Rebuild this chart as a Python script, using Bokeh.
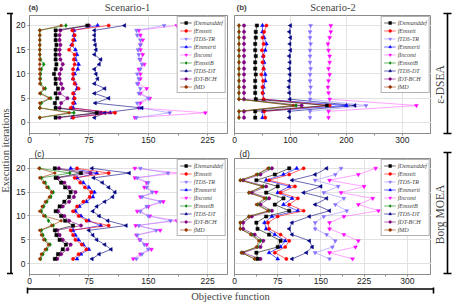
import math
from bokeh.plotting import figure
from bokeh.layouts import row, column
from bokeh.models import Range1d, FixedTicker, Legend, LegendItem, Label
from bokeh.embed import file_html
from bokeh.resources import INLINE

# ---------------- data ----------------
iter_20 = [1, 2, 3, 4, 5, 6, 7, 8, 9, 10, 11, 12, 13, 14, 15, 16, 17, 18, 19, 20]
iter_16 = [1.0, 2.3, 3.5, 4.8, 6.1, 7.3, 8.6, 9.9, 11.1, 12.4, 13.7, 14.9, 16.2, 17.5, 18.7, 20.0]

series_names = ["fDemanddef", "fEmsett", "fTDS-TR", "fEmmerti", "fIncomi",
                "fEmsetB", "fTDS-DT", "fDT-BCH", "fMD"]

y_ticks = [0, 5, 10, 15, 20]
x_ticks_a = [0, 75, 150, 225]
x_minor_a = [37.5, 112.5, 187.5]
x_ticks_b = [0, 100, 200, 300]
x_minor_b = [50, 150, 250]
x_ticks_d = [0, 75, 150, 225, 300]
x_minor_d = [37.5, 112.5, 187.5, 262.5]

# Panel (a): Scenario-1, e-DSEA (iterations 1..20)
a_demanddef = [33, 85, 33, 32, 35, 33, 36, 33, 33, 31, 33, 34, 33, 33, 33, 34, 33, 33, 33, 73]
a_emsett    = [55, 108, 52, 55, 57, 55, 62, 57, 55, 55, 55, 57, 56, 57, 50, 54, 55, 57, 54, 100]
a_tdstr     = [135, 177, 140, 136, 150, 138, 140, 136, 138, 136, 140, 142, 139, 138, 137, 140, 140, 136, 135, 170]
a_emmerti   = [54, 102, 55, 57, 56, 56, 60, 58, 55, 57, 61, 62, 58, 60, 58, 53, 57, 56, 56, 86]
a_incomi    = [133, 222, 138, 140, 152, 140, 148, 137, 140, 140, 138, 145, 140, 143, 140, 140, 143, 140, 138, 186]
a_emsetb    = [13, 56, 13, 15, 27, 14, 20, 14, 14, 14, 15, 18, 14, 13, 13, 13, 13, 13, 13, 46]
a_tdsdt     = [82, 95, 142, 83, 100, 82, 95, 82, 86, 84, 82, 88, 90, 82, 84, 83, 82, 82, 82, 120]
a_dtbch     = [38, 90, 38, 40, 48, 38, 42, 40, 38, 38, 40, 42, 39, 38, 38, 39, 38, 38, 39, 75]
a_md        = [13, 50, 13, 13, 25, 13, 18, 13, 13, 13, 13, 13, 13, 13, 13, 13, 13, 13, 13, 40]

# Panel (b): Scenario-2, e-DSEA (16 recorded iterations)
b_demanddef = [37, 37, 165, 38, 37, 37, 37, 38, 37, 37, 38, 37, 37, 38, 38, 40]
b_emsett    = [55, 53, 170, 52, 50, 50, 51, 48, 52, 50, 52, 49, 52, 50, 53, 57]
b_tdstr     = [135, 135, 235, 135, 135, 136, 135, 135, 136, 135, 135, 135, 136, 135, 135, 136]
b_emmerti   = [50, 51, 200, 52, 51, 52, 55, 55, 52, 53, 51, 55, 57, 53, 50, 50]
b_incomi    = [168, 168, 325, 170, 168, 167, 168, 170, 168, 170, 170, 168, 167, 170, 172, 172]
b_emsetb    = [8, 8, 110, 8, 8, 8, 8, 8, 8, 8, 8, 8, 8, 8, 8, 8]
b_tdsdt     = [98, 98, 215, 99, 98, 97, 98, 99, 98, 99, 98, 100, 99, 100, 98, 100]
b_dtbch     = [17, 17, 120, 17, 17, 17, 17, 17, 17, 17, 17, 17, 17, 17, 17, 17]
b_md        = [8, 8, 105, 8, 8, 8, 8, 8, 8, 8, 8, 8, 8, 8, 8, 8]

# Panel (c): Scenario-1, Borg MOEA (iterations 1..20)
c_demanddef = [32, 36, 42, 46, 38, 34, 32, 55, 45, 40, 33, 38, 44, 50, 52, 45, 40, 33, 65, 32]
c_emsett    = [55, 62, 72, 66, 58, 55, 52, 100, 72, 62, 55, 60, 68, 76, 78, 70, 64, 57, 100, 60]
c_tdstr     = [135, 142, 150, 145, 140, 136, 160, 138, 178, 150, 140, 148, 165, 142, 155, 148, 150, 136, 175, 140]
c_emmerti   = [60, 65, 75, 68, 62, 58, 55, 90, 75, 65, 58, 63, 72, 80, 82, 75, 68, 60, 85, 52]
c_incomi    = [131, 140, 154, 148, 139, 135, 165, 134, 186, 152, 136, 150, 169, 140, 160, 145, 148, 133, 189, 133]
c_emsetb    = [14, 17, 22, 26, 20, 17, 15, 30, 24, 20, 15, 18, 22, 27, 30, 24, 20, 15, 51, 13]
c_tdsdt     = [79, 88, 103, 95, 85, 80, 75, 122, 99, 88, 80, 85, 95, 105, 108, 100, 92, 81, 126, 79]
c_dtbch     = [35, 40, 48, 52, 42, 38, 35, 65, 50, 44, 36, 42, 50, 56, 58, 50, 44, 36, 77, 37]
c_md        = [13, 15, 20, 24, 18, 15, 13, 28, 40, 18, 13, 16, 20, 25, 28, 22, 18, 13, 32, 12]

# Panel (d): Scenario-2, Borg MOEA (16 recorded iterations)
d_demanddef = [40, 38, 75, 80, 60, 40, 38, 55, 95, 70, 85, 55, 75, 38, 70, 95]
d_emsett    = [90, 70, 88, 95, 80, 60, 58, 75, 120, 95, 110, 80, 105, 60, 95, 120]
d_tdstr     = [165, 140, 170, 175, 160, 140, 140, 155, 195, 175, 190, 155, 180, 140, 175, 185]
d_emmerti   = [75, 60, 80, 88, 70, 55, 52, 65, 110, 85, 100, 75, 95, 55, 85, 108]
d_incomi    = [205, 165, 210, 215, 190, 165, 165, 190, 250, 215, 240, 185, 225, 165, 215, 245]
d_emsetb    = [35, 12, 40, 45, 30, 10, 10, 25, 60, 40, 55, 25, 50, 10, 40, 60]
d_tdsdt     = [100, 125, 135, 130, 100, 95, 100, 130, 165, 140, 160, 120, 150, 100, 140, 160]
d_dtbch     = [45, 15, 45, 50, 35, 15, 15, 30, 65, 45, 60, 30, 55, 15, 45, 65]
d_md        = [35, 12, 38, 42, 28, 10, 10, 25, 58, 38, 52, 25, 48, 10, 38, 58]

# ---------------- styles ----------------
marker_colors = ["#000000", "#ff0000", "#8470ff", "#0000ff", "#ff00ff",
                 "#008000", "#000080", "#800080", "#993300"]
line_colors = ["#000000", "#ff0000", "#9a8cff", "#0000ff", "#ff66ff",
               "#008000", "#000080", "#800080", "#993300"]
markers = ["square", "circle", "inverted_triangle", "triangle", "inverted_triangle",
           "diamond", "triangle", "hex", "circle"]
marker_angles = [0, 0, 0, 0, 0, 0, math.pi / 2, 0, 0]
marker_sizes = [3.2, 3.2, 3.8, 3.8, 3.8, 4, 3.8, 3.6, 2.6]
draw_order = [4, 2, 6, 3, 1, 7, 0, 5, 8]

SERIF = "Liberation Serif"
SANS = "Liberation Sans"
Y_LO, Y_HI = -2.27, 22.06


def build_panel(series, ys, x_max, major, minor, show_y, width, height,
                mbl, mbr, mbt, mbb, title_text=None):
    p = figure(width=width, height=height, x_range=Range1d(0, x_max),
               y_range=Range1d(Y_LO, Y_HI), output_backend="svg",
               toolbar_location=None, min_border_left=mbl, min_border_right=mbr,
               min_border_top=mbt, min_border_bottom=mbb)
    p.outline_line_color = "#8c8c8c"
    p.outline_line_width = 1
    p.background_fill_color = "white"
    p.border_fill_color = "white"
    p.xaxis.ticker = FixedTicker(ticks=major, minor_ticks=minor)
    p.yaxis.ticker = FixedTicker(ticks=y_ticks, minor_ticks=[])
    for ax in (p.xaxis[0], p.yaxis[0]):
        ax.axis_line_color = "#8c8c8c"
        ax.major_tick_line_color = "#8c8c8c"
        ax.minor_tick_line_color = "#8c8c8c"
        ax.major_tick_in = 0
        ax.minor_tick_in = 0
        ax.major_label_text_font = SANS
        ax.major_label_text_font_size = "8.5px"
        ax.major_label_text_color = "#222222"
    p.xaxis.major_tick_out = 2
    p.xaxis.minor_tick_out = 2
    p.xaxis.major_label_standoff = 1
    p.yaxis.major_tick_out = 2
    p.yaxis.minor_tick_out = 0
    p.yaxis.major_label_standoff = 2
    if not show_y:
        p.yaxis.visible = False
    p.xgrid.grid_line_color = "#e2e2e2"
    p.ygrid.grid_line_color = "#e2e2e2"
    if title_text:
        p.title.text = title_text
        p.title.align = "left"
        p.title.offset = 5
        p.title.standoff = 0
        p.title.text_font = SANS
        p.title.text_font_style = "normal"
        p.title.text_font_size = "8.5px"
        p.title.text_color = "#222222"

    items = [None] * 9
    for i in draw_order:
        lr = p.line(series[i], ys, line_color=line_colors[i], line_width=0.6)
        sr = p.scatter(series[i], ys, marker=markers[i], size=marker_sizes[i],
                       fill_color=marker_colors[i], line_color=marker_colors[i],
                       line_width=0.5, angle=marker_angles[i])
        items[i] = LegendItem(label=series_names[i], renderers=[lr, sr])
    legend = Legend(items=items, location="top_right",
                    label_text_font=SERIF, label_text_font_style="italic",
                    label_text_font_size="6px", glyph_width=12, glyph_height=7,
                    label_height=7, label_standoff=2, spacing=1, padding=2,
                    margin=1, border_line_color="#666666", border_line_width=0.6,
                    background_fill_color="white", background_fill_alpha=1.0)
    p.add_layout(legend)
    return p


pa = build_panel([a_demanddef, a_emsett, a_tdstr, a_emmerti, a_incomi, a_emsetb, a_tdsdt, a_dtbch, a_md],
                 iter_20, 250, x_ticks_a, x_minor_a, True, 216, 132, 14, 2, 1, 13)
pb = build_panel([b_demanddef, b_emsett, b_tdstr, b_emmerti, b_incomi, b_emsetb, b_tdsdt, b_dtbch, b_md],
                 iter_16, 352, x_ticks_b, x_minor_b, False, 202, 132, 5, 0, 1, 13)
pc = build_panel([c_demanddef, c_emsett, c_tdstr, c_emmerti, c_incomi, c_emsetb, c_tdsdt, c_dtbch, c_md],
                 iter_20, 250, x_ticks_a, x_minor_a, True, 216, 141, 14, 2, 10, 13, "(c)")
pd_ = build_panel([d_demanddef, d_emsett, d_tdstr, d_emmerti, d_incomi, d_emsetb, d_tdsdt, d_dtbch, d_md],
                  iter_16, 342, x_ticks_d, x_minor_d, False, 202, 141, 5, 0, 10, 13, "(d)")


# ---------------- outer strips: titles, brackets, axis titles ----------------
def deco(width, height):
    f = figure(width=width, height=height, x_range=Range1d(0, width),
               y_range=Range1d(0, height), x_axis_type=None, y_axis_type=None,
               min_border=0, output_backend="svg", toolbar_location=None)
    f.outline_line_color = None
    f.background_fill_color = "white"
    f.border_fill_color = "white"
    f.xgrid.visible = False
    f.ygrid.visible = False
    return f


# top strip (x from 13 to 431 of the page, y from 0 to 14)
top = deco(418, 14)
for lx, tx, letter, title in [(15, 114, "(a)", "Scenario-1"), (223, 319.5, "(b)", "Scenario-2")]:
    top.add_layout(Label(x=lx, y=7.5, text=letter, text_font=SANS, text_font_style="bold",
                         text_font_size="8px", text_align="left", text_baseline="middle"))
    top.add_layout(Label(x=tx, y=7, text=title, text_font=SERIF, text_font_size="10.5px",
                         text_align="center", text_baseline="middle"))

H_MAIN = 287
left = deco(13, H_MAIN)
left.segment(x0=[10.5, 6.5, 6.5], y0=[H_MAIN - 13, H_MAIN - 13, H_MAIN - 273],
             x1=[10.5, 13, 13], y1=[H_MAIN - 273, H_MAIN - 13, H_MAIN - 273],
             line_color="black", line_width=1.6)
left.add_layout(Label(x=5.2, y=H_MAIN - 150, text="Execution iterations", angle=math.pi / 2,
                      text_font=SERIF, text_font_size="10.5px", text_align="center",
                      text_baseline="middle"))

right = deco(22, H_MAIN)
right.segment(x0=[16, 12, 12, 16, 12, 12], y0=[H_MAIN - 13, H_MAIN - 13, H_MAIN - 133,
                                              H_MAIN - 152, H_MAIN - 152, H_MAIN - 273],
              x1=[16, 20, 20, 16, 20, 20], y1=[H_MAIN - 133, H_MAIN - 13, H_MAIN - 133,
                                              H_MAIN - 273, H_MAIN - 152, H_MAIN - 273],
              line_color="black", line_width=1.6)
right.add_layout(Label(x=8, y=H_MAIN - 84, text="ε-DSEA", angle=math.pi / 2,
                       text_font=SERIF, text_font_size="11.5px", text_align="center",
                       text_baseline="middle"))
right.add_layout(Label(x=8, y=H_MAIN - 214, text="Borg MOEA", angle=math.pi / 2,
                       text_font=SERIF, text_font_size="11.5px", text_align="center",
                       text_baseline="middle"))

bottom = deco(453, 15)
bottom.segment(x0=[27, 27, 433], y0=[13.5, 16, 16], x1=[433, 27, 433], y1=[13.5, 9, 9],
               line_color="black", line_width=1.6)
bottom.add_layout(Label(x=230, y=0.5, text="Objective function", text_font=SERIF,
                        text_font_size="10.5px", text_align="center", text_baseline="bottom"))

layout = column(row(left, column(top, row(pa, pb), row(pc, pd_)), right), bottom)

open("out.html", "w").write(file_html(layout, INLINE))
